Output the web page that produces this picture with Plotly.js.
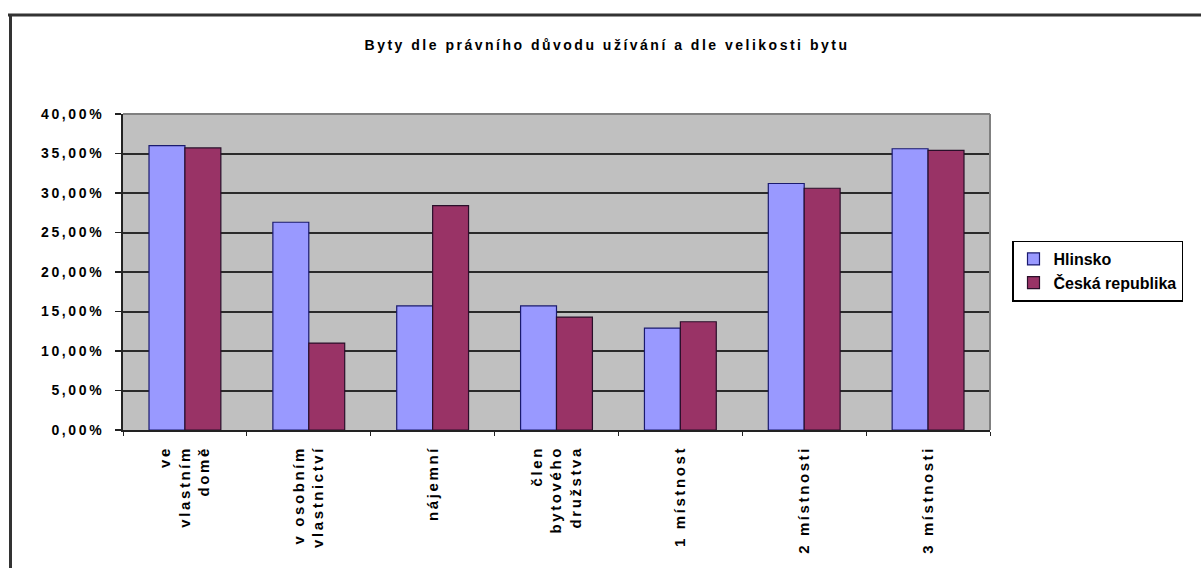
<!DOCTYPE html>
<html>
<head>
<meta charset="utf-8">
<script src="https://cdn.plot.ly/plotly-3.0.1.min.js"></script>
<style>
html,body{margin:0;padding:0;background:#fff;}
#chart{width:1201px;height:568px;}
#chart .gtitle{letter-spacing:2.5px;}
#chart .xtick text{letter-spacing:2.6px;}
#chart .ytick text{letter-spacing:2.6px;}
</style>
</head>
<body>
<div id="chart"></div>
<script>
const categories = [
  "ve<br>vlastním<br>domě",
  "v osobním<br>vlastnictví",
  "nájemní",
  "člen<br>bytového<br>družstva",
  "1 místnost",
  "2 místnosti",
  "3 místnosti"
];
const hlinsko = [0.360, 0.263, 0.157, 0.157, 0.129, 0.312, 0.356];
const ceskaRepublika = [0.357, 0.110, 0.284, 0.143, 0.137, 0.306, 0.354];
const seriesNames = ["Hlinsko", "Česká republika"];
const yTicks = [0, 0.05, 0.10, 0.15, 0.20, 0.25, 0.30, 0.35, 0.40];

const FONT = "Liberation Sans, Arial, sans-serif";
const L = 123, R = 211, T = 114, B = 138, W = 1201, H = 568;
const pw = W - L - R, ph = H - T - B;
const px = v => (v - L) / pw;
const py = v => (H - B - v) / ph;

const traces = [
  {
    type: "bar", name: seriesNames[0], x: categories, y: hlinsko,
    marker: {color: "#9999FF", line: {color: "#1a1a6e", width: 1.2}}
  },
  {
    type: "bar", name: seriesNames[1], x: categories, y: ceskaRepublika,
    marker: {color: "#993366", line: {color: "#2a0f2a", width: 1.2}}
  }
];

const layout = {
  width: W, height: H,
  margin: {l: L, r: R, t: T, b: B, pad: 0},
  paper_bgcolor: "#ffffff",
  plot_bgcolor: "#C0C0C0",
  font: {family: FONT, color: "#000", size: 13},
  title: {
    text: "Byty dle právního důvodu užívání a dle velikosti bytu",
    font: {family: FONT, size: 14, color: "#000", weight: "bold"},
    x: 607 / W, xanchor: "center", xref: "container",
    y: 1 - 45 / H, yanchor: "middle", yref: "container"
  },
  barmode: "group",
  bargap: 0.42,
  bargroupgap: 0,
  showlegend: true,
  legend: {
    x: px(1012), xanchor: "left", y: py(271), yanchor: "middle",
    bgcolor: "#ffffff", bordercolor: "#000", borderwidth: 1.5,
    font: {family: FONT, size: 16, color: "#000", weight: "bold"},
    traceorder: "normal", itemwidth: 30, tracegroupgap: 0
  },
  xaxis: {
    type: "category",
    showline: true, linecolor: "#222", linewidth: 2,
    ticks: "outside", ticklen: 4, tickcolor: "#222", tickwidth: 1,
    tickson: "boundaries",
    tickangle: -90,
    ticklabelstandoff: 8,
    tickfont: {family: FONT, size: 15, color: "#000", weight: "bold"},
    showgrid: false, zeroline: false,
    fixedrange: true
  },
  yaxis: {
    range: [0, 0.40],
    tickvals: yTicks,
    tickformat: ".2%",
    showline: true, linecolor: "#222", linewidth: 2,
    ticks: "outside", ticklen: 6, tickcolor: "#222", tickwidth: 1.5,
    showgrid: true, gridcolor: "#2a2a2a", gridwidth: 2,
    zeroline: false,
    tickfont: {family: FONT, size: 14, color: "#000", weight: "bold"},
    ticklabelstandoff: 8,
    fixedrange: true
  },
  separators: ", ",
  shapes: [
    {type: "line", xref: "paper", yref: "paper", x0: 0, x1: 1, y0: 1, y1: 1, line: {color: "#808080", width: 2}},
    {type: "line", xref: "paper", yref: "paper", x0: 1, x1: 1, y0: 0, y1: 1, line: {color: "#808080", width: 2}},
    {type: "line", xref: "paper", yref: "paper", x0: px(8), x1: px(1210), y0: py(15), y1: py(15), line: {color: "#333", width: 3}},
    {type: "line", xref: "paper", yref: "paper", x0: px(10.5), x1: px(10.5), y0: py(14), y1: py(580), line: {color: "#333", width: 3}}
  ]
};

Plotly.newPlot("chart", traces, layout, {displayModeBar: false, staticPlot: true});
</script>
</body>
</html>
